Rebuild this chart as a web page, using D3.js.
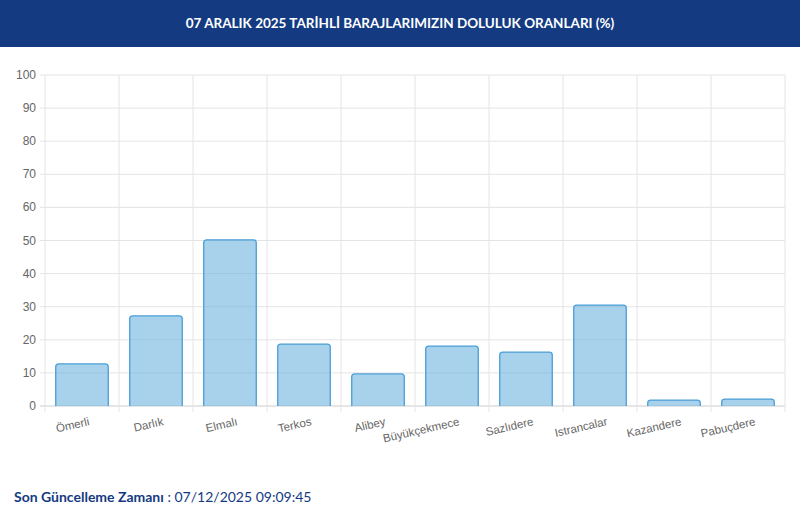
<!DOCTYPE html><html><head><meta charset="utf-8"><script src="https://cdn.jsdelivr.net/npm/d3@7"></script>
<style>body{margin:0;background:#fff;font-family:Lato,"Open Sans",sans-serif}</style></head><body><svg id="c" width="800" height="525"></svg>
<script>
const categories=["Ömerli","Darlık","Elmalı","Terkos","Alibey","Büyükçekmece","Sazlıdere","Istrancalar","Kazandere","Pabuçdere"];
const values=[12.7,27.2,50.2,18.7,9.7,18.1,16.3,30.5,1.8,2.1];
const yTicks=[0,10,20,30,40,50,60,70,80,90,100];
const svg=d3.select("#c");
svg.append("rect").attr("width",800).attr("height",47).attr("fill","#143a82");
svg.append("text").attr("x",400).attr("y",28).attr("text-anchor","middle").attr("fill","#fff").attr("font-weight","bold").attr("font-size",13.5).text("07 ARALIK 2025 TARİHLİ BARAJLARIMIZIN DOLULUK ORANLARI (%)");
const L=45,R=785,T=75,B=406;
const x=d3.scaleBand().domain(categories).range([L,R]).paddingInner(0.29).paddingOuter(0.145);
const xg=d3.scaleLinear().domain([0,categories.length]).range([L,R]);
const y=d3.scaleLinear().domain([0,100]).range([B,T]);
const g=svg.append("g");
yTicks.forEach(t=>{g.append("line").attr("x1",L-5).attr("x2",R).attr("y1",y(t)).attr("y2",y(t)).attr("stroke",t===0?"#ccc":"#e4e4e4");
g.append("text").attr("x",L-9).attr("y",y(t)+4).attr("text-anchor","end").attr("font-size",12).attr("fill","#666").attr("font-family","Liberation Sans,Arial").text(t);});
d3.range(categories.length+1).forEach(i=>g.append("line").attr("x1",xg(i)).attr("x2",xg(i)).attr("y1",T).attr("y2",B+6).attr("stroke","#e4e4e4"));
g.selectAll(".bar").data(values).join("path").attr("fill","rgba(110,178,222,0.6)").attr("stroke","#4a9fd8").attr("stroke-width",1.3)
.attr("d",(v,i)=>{const x0=x(categories[i]),w=x.bandwidth(),yt=y(v),r=Math.min(3,(B-yt)/2);return `M${x0},${B}V${yt+r}Q${x0},${yt} ${x0+r},${yt}H${x0+w-r}Q${x0+w},${yt} ${x0+w},${yt+r}V${B}`;});
categories.forEach(c=>{const cx=x(c)+x.bandwidth()/2;g.append("text").attr("transform",`translate(${cx+8},${425}) rotate(-13)`).attr("text-anchor","end").attr("font-size",11.5).attr("fill","#666").attr("font-family","Liberation Sans,Arial").text(c);});
const f=svg.append("text").attr("x",14).attr("y",502).attr("font-size",14).attr("fill","#143a82");
f.append("tspan").attr("font-weight","bold").text("Son Güncelleme Zamanı");
f.append("tspan").text(" : 07/12/2025 09:09:45");
</script></body></html>
